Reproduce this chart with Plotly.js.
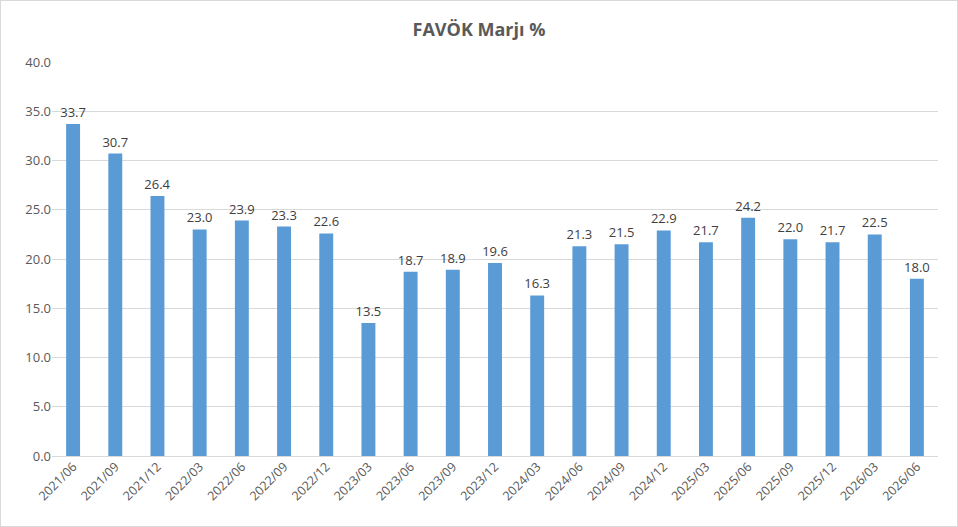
<!DOCTYPE html>
<html><head><meta charset="utf-8">
<script src="https://cdn.plot.ly/plotly-3.0.1.min.js"></script>
<style>html,body{margin:0;padding:0;background:#fff}#c{width:958px;height:527px;box-sizing:border-box;border:1px solid #d9d9d9}</style>
</head><body><div id="c"></div>
<script>
const categories = ["2021/06","2021/09","2021/12","2022/03","2022/06","2022/09","2022/12","2023/03","2023/06","2023/09","2023/12","2024/03","2024/06","2024/09","2024/12","2025/03","2025/06","2025/09","2025/12","2026/03","2026/06"];
const margin = [33.7,30.7,26.4,23.0,23.9,23.3,22.6,13.5,18.7,18.9,19.6,16.3,21.3,21.5,22.9,21.7,24.2,22.0,21.7,22.5,18.0];
const tickVals = [0,5,10,15,20,25,30,35,40];
const tickLabels = tickVals.map(v => v.toFixed(1));

const trace = {
  type: 'bar', x: categories, y: margin,
  marker: {color: '#5B9BD5'},
  text: margin.map(v => v.toFixed(1)), textposition: 'outside', cliponaxis: false,
  constraintext: 'none',
  textfont: {family: 'Open Sans, sans-serif', size: 13, color: '#404040'},
  hoverinfo: 'x+y'
};
const layout = {
  width: 956, height: 525,
  margin: {l: 51, r: 19, t: 61, b: 70},
  paper_bgcolor: '#fff', plot_bgcolor: '#fff',
  bargap: 0.67,
  font: {family: 'Open Sans, sans-serif', color: '#595959'},
  title: {text: '<b>FAVÖK Marjı %</b>', x: 0.5, xanchor: 'center', y: 0.945, yanchor: 'middle', font: {size: 18, color: '#595959'}},
  xaxis: {type: 'category', tickangle: -45, tickfont: {size: 12.5, color: '#595959'}, showgrid: false, showline: false, ticks: '', ticklen: 6},
  yaxis: {range: [0, 40], tickvals: tickVals, ticktext: tickLabels, tickfont: {size: 13, color: '#595959'}, gridcolor: '#d9d9d9', gridwidth: 1, zeroline: true, zerolinecolor: '#d9d9d9', ticks: '', showline: false},
  showlegend: false
};
Plotly.newPlot('c', [trace], layout, {displayModeBar: false, staticPlot: true});
</script></body></html>
